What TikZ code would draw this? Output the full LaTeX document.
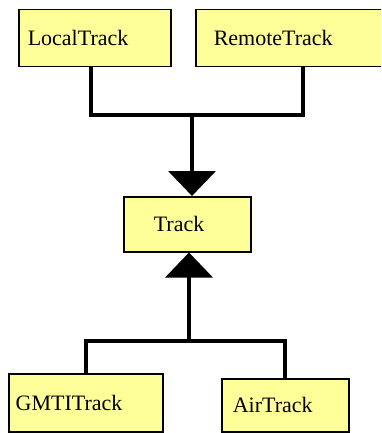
\documentclass[tikz,border=0pt]{standalone}
\usepackage{fontspec}
\newfontfamily\clsfont{Liberation Serif}
\usepackage{tikz}
\usetikzlibrary{positioning,arrows.meta}
\usepackage{xcolor}
\definecolor{clsfill}{RGB}{255,255,153}
\tikzset{
cls/.style={draw=black,line width=1.5pt,fill=clsfill,anchor=north west,align=left,
  font=\clsfont\fontsize{22}{26}\selectfont},
conn/.style={line width=4pt,draw=black},
gen/.style={conn,-{Triangle[width=47pt,length=25pt]}}
}
\begin{document}
\begin{tikzpicture}[x=1pt,y=-1pt]
\useasboundingbox (0,0) rectangle (381,433);
\clip (0,0) rectangle (381,433);
% classes: top-left corner, left padding via inner xsep
\node[cls,inner xsep=9pt,text width=134pt,minimum height=57pt] (local) at (18,9) {LocalTrack};
\node[cls,inner xsep=18pt,text width=178pt,minimum height=57pt] (remote) at (195,9) {RemoteTrack};
\node[cls,inner xsep=30pt,text width=67pt,minimum height=55pt] (track) at (123,196) {Track};
\node[cls,inner xsep=7pt,text width=140pt,minimum height=58pt] (gmti) at (8,373) {GMTITrack};
\node[cls,inner xsep=11pt,text width=105pt,minimum height=53pt] (air) at (221,378) {AirTrack};
\coordinate (topjoin) at (192,115);
\coordinate (botjoin) at (189,341);
% generalisation connectors
\draw[conn] ([xshift=-4pt]local.south) |- (topjoin) -| (remote.south);
\draw[gen] (topjoin) -- (topjoin |- track.north);
\draw[conn] (gmti.north) |- (botjoin) -| (air.north);
\draw[gen] (botjoin) -- (botjoin |- track.south);
\end{tikzpicture}
\end{document}
